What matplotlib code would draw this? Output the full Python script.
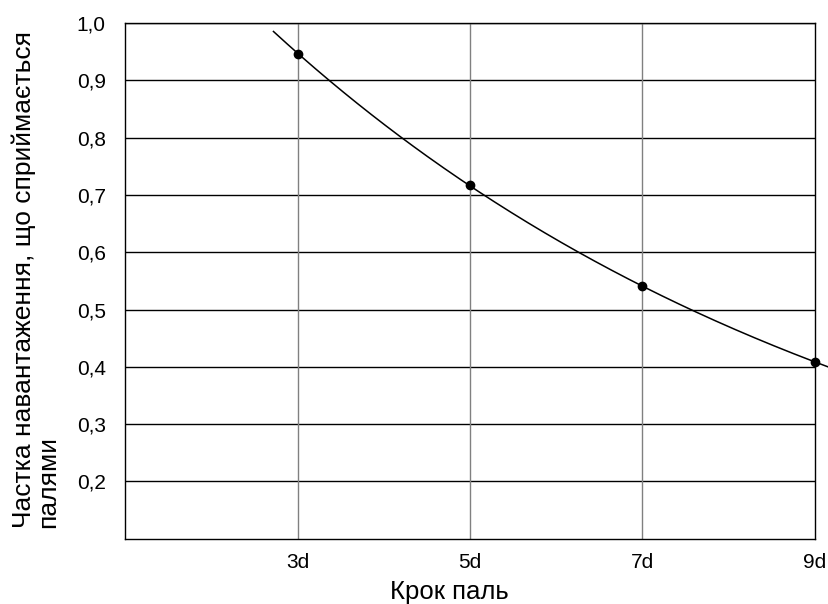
import numpy as np
import matplotlib.pyplot as plt

# Data
steps = [3, 5, 7, 9]                 # pile spacing, in d
share = [0.945, 0.718, 0.541, 0.408]  # share of load taken by piles
xtick_labels = ['3d', '5d', '7d', '9d']
ytick_values = [0.2, 0.3, 0.4, 0.5, 0.6, 0.7, 0.8, 0.9, 1.0]

plt.rcParams['font.family'] = ['Liberation Sans', 'DejaVu Sans']

fig = plt.figure(figsize=(8.29, 6.04), dpi=100)
ax = fig.add_axes([0.151, 0.108, 0.832, 0.854])

# exponential trendline (as in the spreadsheet original)
b, ln_a = np.polyfit(steps, np.log(share), 1)
xt = np.linspace(2.72, 9.17, 200)
ax.plot(xt, np.exp(ln_a) * np.exp(b * xt), color='black', lw=1.1, clip_on=False, zorder=3)
ax.plot(steps, share, 'o', color='black', ms=6, zorder=4, clip_on=False)

ax.set_xlim(1, 9)
ax.set_ylim(0.1, 1.0)
ax.set_xticks(steps)
ax.set_xticklabels(xtick_labels)
ax.set_yticks(ytick_values)
ax.set_yticklabels([('%.1f' % v).replace('.', ',') for v in ytick_values])
ax.tick_params(length=0, labelsize=15)
ax.tick_params(axis='y', pad=14)
ax.tick_params(axis='x', pad=10)

for v in ytick_values:
    ax.axhline(v, color='black', lw=1.0, zorder=1)
for v in steps[:-1]:
    ax.axvline(v, color='#808080', lw=1.0, zorder=1)

for s in ['left', 'bottom', 'right', 'top']:
    ax.spines[s].set_color('black')
    ax.spines[s].set_linewidth(1.0)

fig.text(0.542, 0.008, 'Крок паль', fontsize=18.5, ha='center', va='baseline')
fig.text(0.014, 0.126, 'Частка навантаження, що сприймається\nпалями', rotation=90,
         fontsize=19, ha='left', va='bottom', multialignment='left', linespacing=1.0)

fig.savefig('out.png', dpi=100)
